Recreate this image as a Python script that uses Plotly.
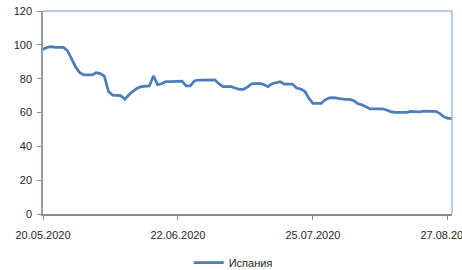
import plotly.graph_objects as go
import pandas as pd

start_date = "2020-05-20"
spain_values = [
    97.3, 98.5, 99.0, 98.5, 98.5, 98.5, 96.5, 91.7, 86.8, 83.5,
    82.2, 82.2, 82.2, 83.5, 83.0, 81.5, 72.5, 70.3, 70.3, 70.0,
    67.8, 70.5, 72.5, 74.3, 75.3, 75.7, 75.7, 81.6, 76.5, 77.0,
    78.2, 78.2, 78.2, 78.4, 78.6, 75.7, 75.7, 78.6, 79.2, 79.2,
    79.2, 79.3, 79.3, 77.0, 75.3, 75.3, 75.3, 74.5, 73.7, 73.7,
    75.0, 77.0, 77.2, 77.2, 76.5, 75.3, 77.0, 77.8, 78.2, 76.8,
    76.8, 76.8, 74.5, 73.9, 72.5, 68.5, 65.4, 65.4, 65.4, 67.5,
    68.6, 68.8, 68.3, 68.0, 67.8, 67.7, 67.0, 65.2, 64.5, 63.5,
    62.1, 62.1, 62.1, 62.1, 61.5, 60.5, 60.1, 60.1, 60.1, 60.1,
    60.6, 60.5, 60.3, 60.8, 60.8, 60.8, 60.7, 59.5, 57.5, 56.6,
    56.6,
]
dates = pd.date_range(start_date, periods=len(spain_values), freq="D")
series_name = "Испания"
x_tick_dates = ["2020-05-20", "2020-06-22", "2020-07-25", "2020-08-27"]
x_tick_labels = ["20.05.2020", "22.06.2020", "25.07.2020", "27.08.2020"]
y_ticks = [0, 20, 40, 60, 80, 100, 120]

fig = go.Figure()
fig.add_trace(go.Scatter(
    x=dates, y=spain_values, mode="lines", name=series_name,
    line=dict(color="#4A7EBB", width=2.75),
))

font = dict(family="Liberation Sans, Arial, sans-serif", size=11, color="#262626")

fig.update_layout(
    width=462, height=270,
    margin=dict(l=43, r=10, t=11, b=56, autoexpand=False),
    paper_bgcolor="white", plot_bgcolor="white",
    font=font,
    showlegend=True,
    legend=dict(orientation="h", x=0.465, xanchor="center", y=-0.24, yanchor="middle",
                font=font, itemwidth=30),
    xaxis=dict(
        type="date", range=[dates[0], dates[-1]],
        tickvals=x_tick_dates, ticktext=x_tick_labels,
        showgrid=False, zeroline=False,
        showline=True, linecolor="#8C8C8C", linewidth=1.5,
        ticks="outside", ticklen=4, tickcolor="#8C8C8C",
        ticklabelstandoff=6, automargin=False, ticklabeloverflow="allow",
    ),
    yaxis=dict(
        range=[0, 120], tickvals=y_ticks,
        showgrid=False, zeroline=False,
        showline=True, linecolor="#8C9BB0", linewidth=1.5,
        ticks="outside", ticklen=4, tickcolor="#8C8C8C",
        ticklabelstandoff=3, automargin=False,
    ),
)
# light blue plot-area border on top and right
fig.add_shape(type="line", xref="paper", yref="paper", x0=0, x1=1, y0=1, y1=1,
              line=dict(color="#9DB9E0", width=1.5))
fig.add_shape(type="line", xref="paper", yref="paper", x0=1, x1=1, y0=0, y1=1,
              line=dict(color="#9DB9E0", width=1.5))

fig.write_html("out.html", config={"displayModeBar": False},
               post_script="document.body.style.margin='0';")
